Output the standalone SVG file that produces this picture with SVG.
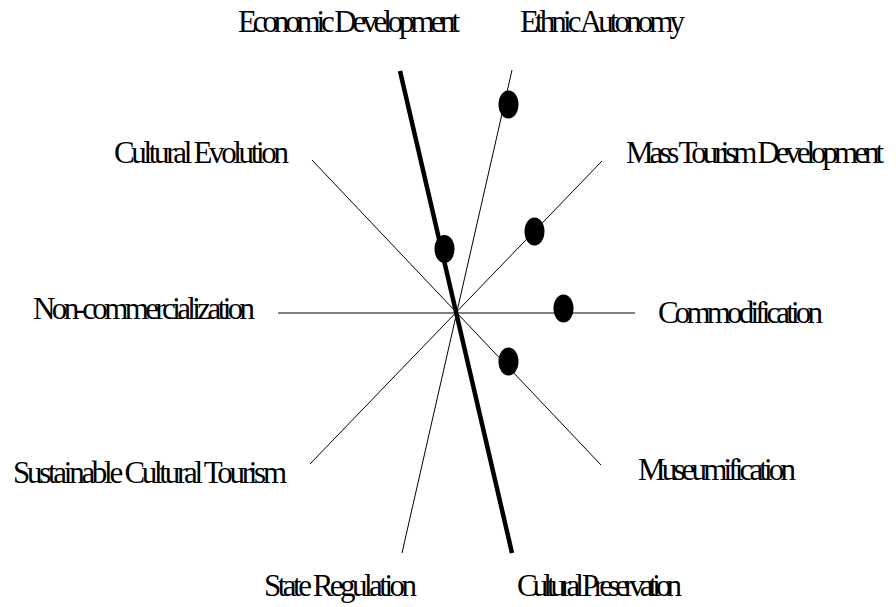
<svg xmlns="http://www.w3.org/2000/svg" width="896" height="607" viewBox="0 0 896 607">
<style>
.lbl{font-family:"Liberation Serif","Times New Roman",serif;font-size:31px;fill:#000;}
.ax{stroke:#000;stroke-width:1;fill:none;}
.thick{stroke:#000;stroke-width:4.5;fill:none;}
.dot{fill:#000;}
</style>
<rect width="896" height="607" fill="#fff"/>
<g id="connectors">
<line class="ax" x1="278" y1="313" x2="635" y2="313"/>
<line class="ax" x1="312" y1="160" x2="601" y2="465"/>
<line class="ax" x1="602" y1="161" x2="310" y2="464"/>
<line class="ax" x1="512" y1="70" x2="402" y2="553"/>
<line class="thick" x1="400" y1="71" x2="512" y2="553"/>
</g>
<g id="dots">
<ellipse class="dot" cx="508.5" cy="104.5" rx="10" ry="14"/>
<ellipse class="dot" cx="444.5" cy="249" rx="10" ry="14"/>
<ellipse class="dot" cx="534.5" cy="231.5" rx="10" ry="14"/>
<ellipse class="dot" cx="563.5" cy="308.5" rx="10" ry="14"/>
<ellipse class="dot" cx="508.5" cy="361.5" rx="10" ry="14"/>
</g>
<g id="economic-development"><text class="lbl" x="238" y="32" textLength="222" lengthAdjust="spacing">Economic Development</text></g>
<g id="ethnic-autonomy"><text class="lbl" x="520" y="32" textLength="165" lengthAdjust="spacing">Ethnic Autonomy</text></g>
<g id="cultural-evolution"><text class="lbl" x="114" y="163" textLength="175" lengthAdjust="spacing">Cultural Evolution</text></g>
<g id="mass-tourism-development"><text class="lbl" x="626" y="163" textLength="258" lengthAdjust="spacing">Mass Tourism Development</text></g>
<g id="non-commercialization"><text class="lbl" x="33" y="319" textLength="222" lengthAdjust="spacing">Non-commercialization</text></g>
<g id="commodification"><text class="lbl" x="658" y="323" textLength="165" lengthAdjust="spacing">Commodification</text></g>
<g id="sustainable-cultural-tourism"><text class="lbl" x="13" y="483" textLength="274" lengthAdjust="spacing">Sustainable Cultural Tourism</text></g>
<g id="museumification"><text class="lbl" x="638" y="480" textLength="158" lengthAdjust="spacing">Museumification</text></g>
<g id="state-regulation"><text class="lbl" x="264" y="596" textLength="153" lengthAdjust="spacing">State Regulation</text></g>
<g id="cultural-preservation"><text class="lbl" x="517" y="596" textLength="165" lengthAdjust="spacing">Cultural Preservation</text></g>
</svg>
